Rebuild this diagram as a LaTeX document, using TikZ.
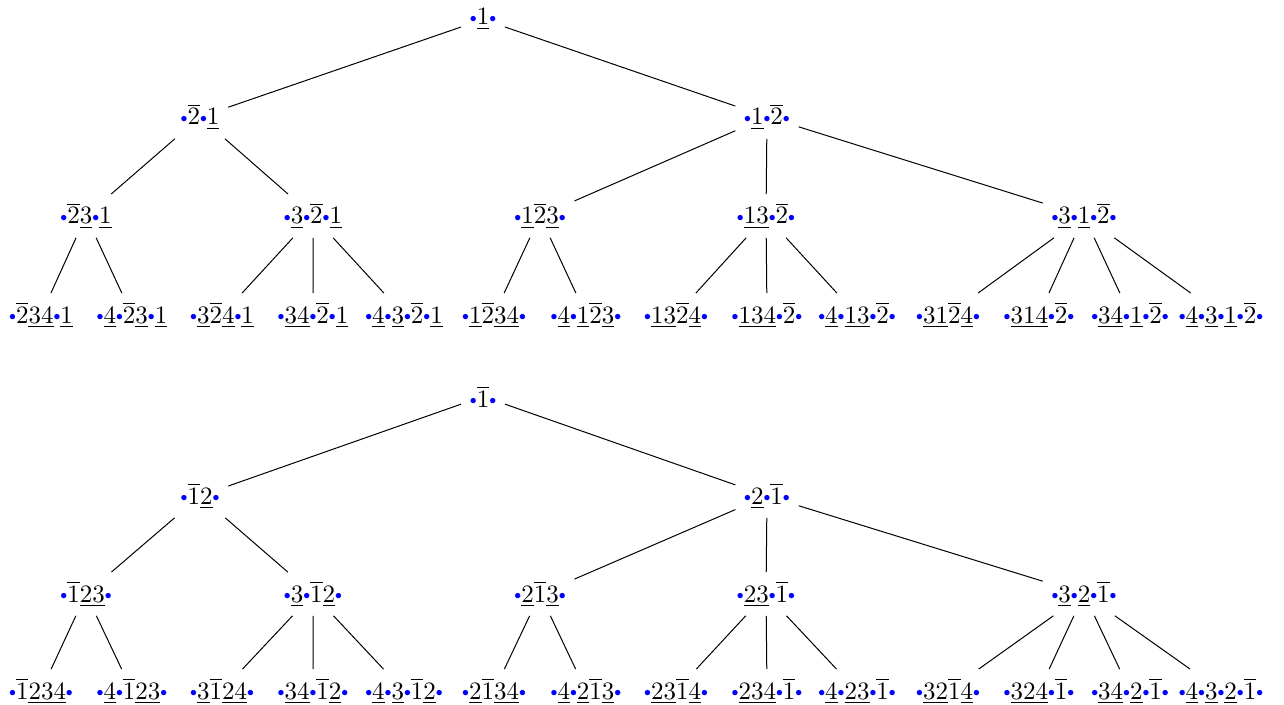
\documentclass[tikz,border=0pt]{standalone}
\usepackage{amsmath}
\usepackage{amssymb}
\usepackage{xcolor}
\usepackage{graphicx}
\usepackage{tikz}

\newcommand{\bd}{\mathord{\raisebox{1.1pt}{\color{blue}\scalebox{0.55}{$\bullet$}}}}
\newcommand{\ob}[1]{\overline{#1}}
\newcommand{\ub}[1]{\underline{#1}}

\begin{document}
\begin{tikzpicture}[x=0.4pt,y=-0.4pt,every node/.style={anchor=base}]
    \useasboundingbox (0,0) rectangle (1284,705);

    % Upper tree
    \node (A) at (483,25) {$\bd\ub{1}\bd$};

    \node (B1) at (200,125) {$\bd\ob{2}\bd\ub{1}$};
    \node (B2) at (767,125) {$\bd\ub{1}\bd\ob{2}\bd$};

    \node (C1) at (86,224) {$\bd\ob{2}\ub{3}\bd\ub{1}$};
    \node (C2) at (313,224) {$\bd\ub{3}\bd\ob{2}\bd\ub{1}$};
    \node (C3) at (540,224) {$\bd\ub{1}\ob{2}\ub{3}\bd$};
    \node (C4) at (766,224) {$\bd\ub{13}\bd\ob{2}\bd$};
    \node (C5) at (1084,224) {$\bd\ub{3}\bd\ub{1}\bd\ob{2}\bd$};

    \node (D1) at (41,323) {$\bd\ob{2}\ub{34}\bd\ub{1}$};
    \node (D2) at (132,323) {$\bd\ub{4}\bd\ob{2}\ub{3}\bd\ub{1}$};
    \node (D3) at (222,323) {$\bd\ub{3}\ob{2}\ub{4}\bd\ub{1}$};
    \node (D4) at (313,323) {$\bd\ub{34}\bd\ob{2}\bd\ub{1}$};
    \node (D5) at (404,323) {$\bd\ub{4}\bd\ub{3}\bd\ob{2}\bd\ub{1}$};
    \node (D6) at (494,323) {$\bd\ub{1}\ob{2}\ub{34}\bd$};
    \node (D7) at (586,323) {$\bd\ub{4}\bd\ub{1}\ob{2}\ub{3}\bd$};
    \node (D8) at (676,323) {$\bd\ub{13}\ob{2}\ub{4}\bd$};
    \node (D9) at (767,323) {$\bd\ub{134}\bd\ob{2}\bd$};
    \node (D10) at (857,323) {$\bd\ub{4}\bd\ub{13}\bd\ob{2}\bd$};
    \node (D11) at (948,323) {$\bd\ub{31}\ob{2}\ub{4}\bd$};
    \node (D12) at (1039,323) {$\bd\ub{314}\bd\ob{2}\bd$};
    \node (D13) at (1130,323) {$\bd\ub{34}\bd\ub{1}\bd\ob{2}\bd$};
    \node (D14) at (1221,323) {$\bd\ub{4}\bd\ub{3}\bd\ub{1}\bd\ob{2}\bd$};

    \draw (A) -- (B1) (A) -- (B2);
    \draw (B1) -- (C1) (B1) -- (C2);
    \draw (B2) -- (C3) (B2) -- (C4) (B2) -- (C5);
    \draw (C1) -- (D1) (C1) -- (D2);
    \draw (C2) -- (D3) (C2) -- (D4) (C2) -- (D5);
    \draw (C3) -- (D6) (C3) -- (D7);
    \draw (C4) -- (D8) (C4) -- (D9) (C4) -- (D10);
    \draw (C5) -- (D11) (C5) -- (D12) (C5) -- (D13) (C5) -- (D14);

    % Lower tree
    \node (a) at (483,407) {$\bd\ob{1}\bd$};

    \node (b1) at (200,504) {$\bd\ob{1}\ub{2}\bd$};
    \node (b2) at (767,504) {$\bd\ub{2}\bd\ob{1}\bd$};

    \node (c1) at (86,602) {$\bd\ob{1}\ub{23}\bd$};
    \node (c2) at (313,602) {$\bd\ub{3}\bd\ob{1}\ub{2}\bd$};
    \node (c3) at (540,602) {$\bd\ub{2}\ob{1}\ub{3}\bd$};
    \node (c4) at (766,602) {$\bd\ub{23}\bd\ob{1}\bd$};
    \node (c5) at (1084,602) {$\bd\ub{3}\bd\ub{2}\bd\ob{1}\bd$};

    \node (d1) at (41,699) {$\bd\ob{1}\ub{234}\bd$};
    \node (d2) at (132,699) {$\bd\ub{4}\bd\ob{1}\ub{23}\bd$};
    \node (d3) at (222,699) {$\bd\ub{3}\ob{1}\ub{24}\bd$};
    \node (d4) at (313,699) {$\bd\ub{34}\bd\ob{1}\ub{2}\bd$};
    \node (d5) at (404,699) {$\bd\ub{4}\bd\ub{3}\bd\ob{1}\ub{2}\bd$};
    \node (d6) at (494,699) {$\bd\ub{2}\ob{1}\ub{34}\bd$};
    \node (d7) at (586,699) {$\bd\ub{4}\bd\ub{2}\ob{1}\ub{3}\bd$};
    \node (d8) at (676,699) {$\bd\ub{23}\ob{1}\ub{4}\bd$};
    \node (d9) at (767,699) {$\bd\ub{234}\bd\ob{1}\bd$};
    \node (d10) at (857,699) {$\bd\ub{4}\bd\ub{23}\bd\ob{1}\bd$};
    \node (d11) at (948,699) {$\bd\ub{32}\ob{1}\ub{4}\bd$};
    \node (d12) at (1039,699) {$\bd\ub{324}\bd\ob{1}\bd$};
    \node (d13) at (1130,699) {$\bd\ub{34}\bd\ub{2}\bd\ob{1}\bd$};
    \node (d14) at (1221,699) {$\bd\ub{4}\bd\ub{3}\bd\ub{2}\bd\ob{1}\bd$};

    \draw (a) -- (b1) (a) -- (b2);
    \draw (b1) -- (c1) (b1) -- (c2);
    \draw (b2) -- (c3) (b2) -- (c4) (b2) -- (c5);
    \draw (c1) -- (d1) (c1) -- (d2);
    \draw (c2) -- (d3) (c2) -- (d4) (c2) -- (d5);
    \draw (c3) -- (d6) (c3) -- (d7);
    \draw (c4) -- (d8) (c4) -- (d9) (c4) -- (d10);
    \draw (c5) -- (d11) (c5) -- (d12) (c5) -- (d13) (c5) -- (d14);

\end{tikzpicture}
\end{document}
